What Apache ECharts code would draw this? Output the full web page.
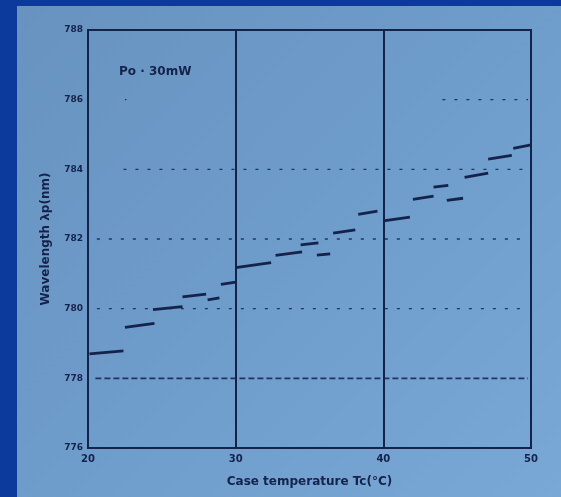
<!DOCTYPE html>
<html>
<head>
<meta charset="utf-8">
<script src="https://cdn.jsdelivr.net/npm/echarts@6/dist/echarts.min.js"></script>
<style>
html,body{margin:0;padding:0;width:561px;height:497px;background:#0b3a9c;overflow:hidden;}
#paper{position:absolute;left:17px;top:6px;width:544px;height:491px;background:linear-gradient(135deg,#6893c0 0%,#6e9ccb 50%,#79a8d6 100%);}
#chart{position:absolute;left:0;top:0;width:561px;height:497px;}
</style>
</head>
<body>
<div id="paper"></div>
<div id="chart"></div>
<script>
// Axis ticks
const xTicks = [20, 30, 40, 50];
const yTicks = [776, 778, 780, 782, 784, 786, 788];
// Mode segments: start temperature, start wavelength, end temperature, end wavelength
const segT1 = [20.1, 22.5, 24.4, 26.4, 28.1, 29.0, 30.0, 32.7, 34.4, 35.5, 36.6, 38.3, 40.0, 42.0, 43.4, 44.3, 45.5, 47.1, 48.8];
const segL1 = [778.70, 779.46, 779.97, 780.34, 780.25, 780.70, 781.18, 781.53, 781.83, 781.54, 782.17, 782.71, 782.52, 783.14, 783.49, 783.11, 783.77, 784.29, 784.60];
const segT2 = [22.4, 24.5, 26.4, 28.0, 28.9, 30.0, 32.4, 34.5, 35.6, 36.4, 38.1, 39.6, 41.8, 43.4, 44.4, 45.4, 47.1, 48.7, 50.0];
const segL2 = [778.79, 779.58, 780.06, 780.42, 780.31, 780.76, 781.32, 781.63, 781.89, 781.57, 782.26, 782.80, 782.63, 783.23, 783.54, 783.17, 783.89, 784.40, 784.70];
// Dotted reference levels
const dotLevel = [778, 780, 782, 784, 786, 786];
const dotStart = [20.5, 20.6, 20.6, 22.4, 22.5, 44.0];
const dotEnd   = [49.8, 49.8, 49.8, 49.8, 22.6, 49.8];

const ink = '#15224a';
const fam = '"DejaVu Sans"';
const series = [];
for (let i = 0; i < dotLevel.length; i++) {
  series.push({
    type: 'line', symbol: 'none', silent: true,
    data: [[dotStart[i], dotLevel[i]], [dotEnd[i], dotLevel[i]]],
    lineStyle: {color: ink, width: i === 0 ? 1.6 : 1.4, type: i === 0 ? [6, 3] : [3, 9], opacity: 0.85}
  });
}
for (let i = 0; i < segT1.length; i++) {
  series.push({
    type: 'line', symbol: 'none', silent: true,
    data: [[segT1[i], segL1[i]], [segT2[i], segL2[i]]],
    lineStyle: {color: ink, width: 2.8}
  });
}

const chart = echarts.init(document.getElementById('chart'), null, {renderer: 'canvas'});
chart.setOption({
  animation: false,
  backgroundColor: 'transparent',
  grid: {left: 88, right: 30, top: 30, bottom: 49, show: true, borderColor: ink, borderWidth: 2, backgroundColor: 'transparent'},
  xAxis: {
    type: 'value', min: xTicks[0], max: xTicks[xTicks.length - 1], interval: 10,
    axisLine: {show: true, lineStyle: {color: ink, width: 2}},
    axisTick: {show: false},
    splitLine: {show: true, lineStyle: {color: ink, width: 2}},
    axisLabel: {color: ink, fontSize: 10, fontWeight: 'bold', fontFamily: fam, margin: 6,
      formatter: v => xTicks.includes(v) ? String(v) : ''},
    name: 'Case temperature Tc(°C)', nameLocation: 'middle', nameGap: 28,
    nameTextStyle: {color: ink, fontSize: 12, fontWeight: 'bold', fontFamily: fam}
  },
  yAxis: {
    type: 'value', min: yTicks[0], max: yTicks[yTicks.length - 1], interval: 2,
    axisLine: {show: true, lineStyle: {color: ink, width: 2}},
    axisTick: {show: false},
    splitLine: {show: false},
    axisLabel: {color: ink, fontSize: 9, fontWeight: 'bold', fontFamily: fam, margin: 5,
      formatter: v => yTicks.includes(v) ? String(v) : ''},
    name: 'Wavelength λp(nm)', nameLocation: 'middle', nameGap: 36,
    nameTextStyle: {color: ink, fontSize: 12, fontWeight: 'bold', fontFamily: fam}
  },
  graphic: [{
    type: 'text', left: 119, top: 66,
    style: {text: 'Po · 30mW', fill: ink, font: 'bold 12px "DejaVu Sans"'}
  }],
  series: series
});
</script>
</body>
</html>
